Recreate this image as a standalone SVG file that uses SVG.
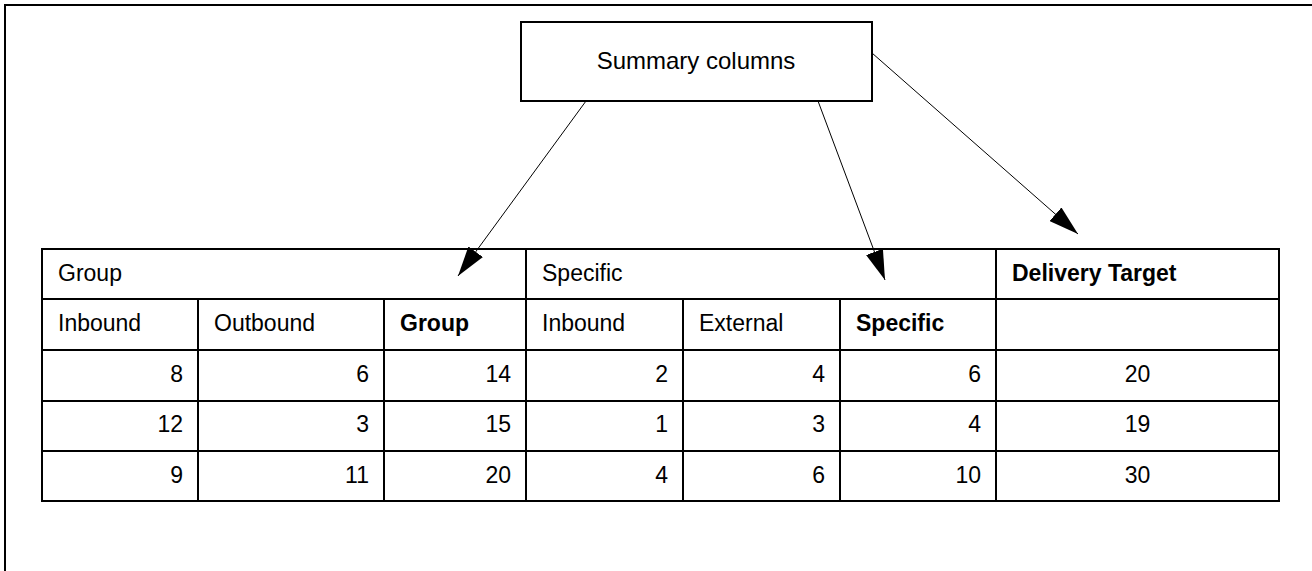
<svg xmlns="http://www.w3.org/2000/svg" width="1312" height="571" viewBox="0 0 1312 571">
  <style>
    .frame { fill: none; stroke: #000; stroke-width: 2; }
    .grid { stroke: #000; stroke-width: 2; fill: none; }
    .conn { stroke: #000; stroke-width: 1; fill: none; }
    text { font-family: "Liberation Sans", Arial, sans-serif; font-size: 23px; fill: #000; }
    .b { font-weight: bold; }
    .r { text-anchor: end; }
    .c { text-anchor: middle; }
    .title { font-size: 24px; }
  </style>
  <defs>
    <marker id="arrow" viewBox="0 0 30 18" refX="30" refY="9" markerWidth="30" markerHeight="18" markerUnits="userSpaceOnUse" orient="auto">
      <path d="M0,0 L30,9 L0,18 z" fill="#000"/>
    </marker>
  </defs>
  <rect width="1312" height="571" fill="#fff"/>

  <!-- page frame (top and left edges) -->
  <path class="frame" d="M5,571 V5 H1312"/>

  <!-- callout box -->
  <g id="summary-box">
    <rect class="frame" x="521" y="22" width="351" height="79"/>
    <text class="c title" x="696" y="69">Summary columns</text>
  </g>

  <!-- summary table -->
  <g id="table">
    <rect class="grid" x="42" y="249" width="1237" height="252"/>
    <path class="grid" d="M42,299 H1279 M42,350 H1279 M42,401 H1279 M42,451 H1279
                          M526,249 V501 M996,249 V501
                          M198,299 V501 M384,299 V501 M683,299 V501 M840,299 V501"/>
    <!-- header row -->
    <text x="58" y="281">Group</text>
    <text x="542" y="281">Specific</text>
    <text class="b" x="1012" y="281">Delivery Target</text>
    <!-- sub-header row -->
    <text x="58" y="331">Inbound</text>
    <text x="214" y="331">Outbound</text>
    <text class="b" x="400" y="331">Group</text>
    <text x="542" y="331">Inbound</text>
    <text x="699" y="331">External</text>
    <text class="b" x="856" y="331">Specific</text>
    <!-- data rows -->
    <text class="r" x="183" y="382">8</text>
    <text class="r" x="369" y="382">6</text>
    <text class="r" x="511" y="382">14</text>
    <text class="r" x="668" y="382">2</text>
    <text class="r" x="825" y="382">4</text>
    <text class="r" x="981" y="382">6</text>
    <text class="c" x="1137.5" y="382">20</text>

    <text class="r" x="183" y="432">12</text>
    <text class="r" x="369" y="432">3</text>
    <text class="r" x="511" y="432">15</text>
    <text class="r" x="668" y="432">1</text>
    <text class="r" x="825" y="432">3</text>
    <text class="r" x="981" y="432">4</text>
    <text class="c" x="1137.5" y="432">19</text>

    <text class="r" x="183" y="483">9</text>
    <text class="r" x="369" y="483">11</text>
    <text class="r" x="511" y="483">20</text>
    <text class="r" x="668" y="483">4</text>
    <text class="r" x="825" y="483">6</text>
    <text class="r" x="981" y="483">10</text>
    <text class="c" x="1137.5" y="483">30</text>
  </g>

  <!-- connectors -->
  <g id="connectors">
    <line class="conn" x1="586" y1="101" x2="458" y2="276" marker-end="url(#arrow)"/>
    <line class="conn" x1="818" y1="101" x2="885" y2="280" marker-end="url(#arrow)"/>
    <line class="conn" x1="872" y1="53" x2="1078" y2="234" marker-end="url(#arrow)"/>
  </g>
</svg>
